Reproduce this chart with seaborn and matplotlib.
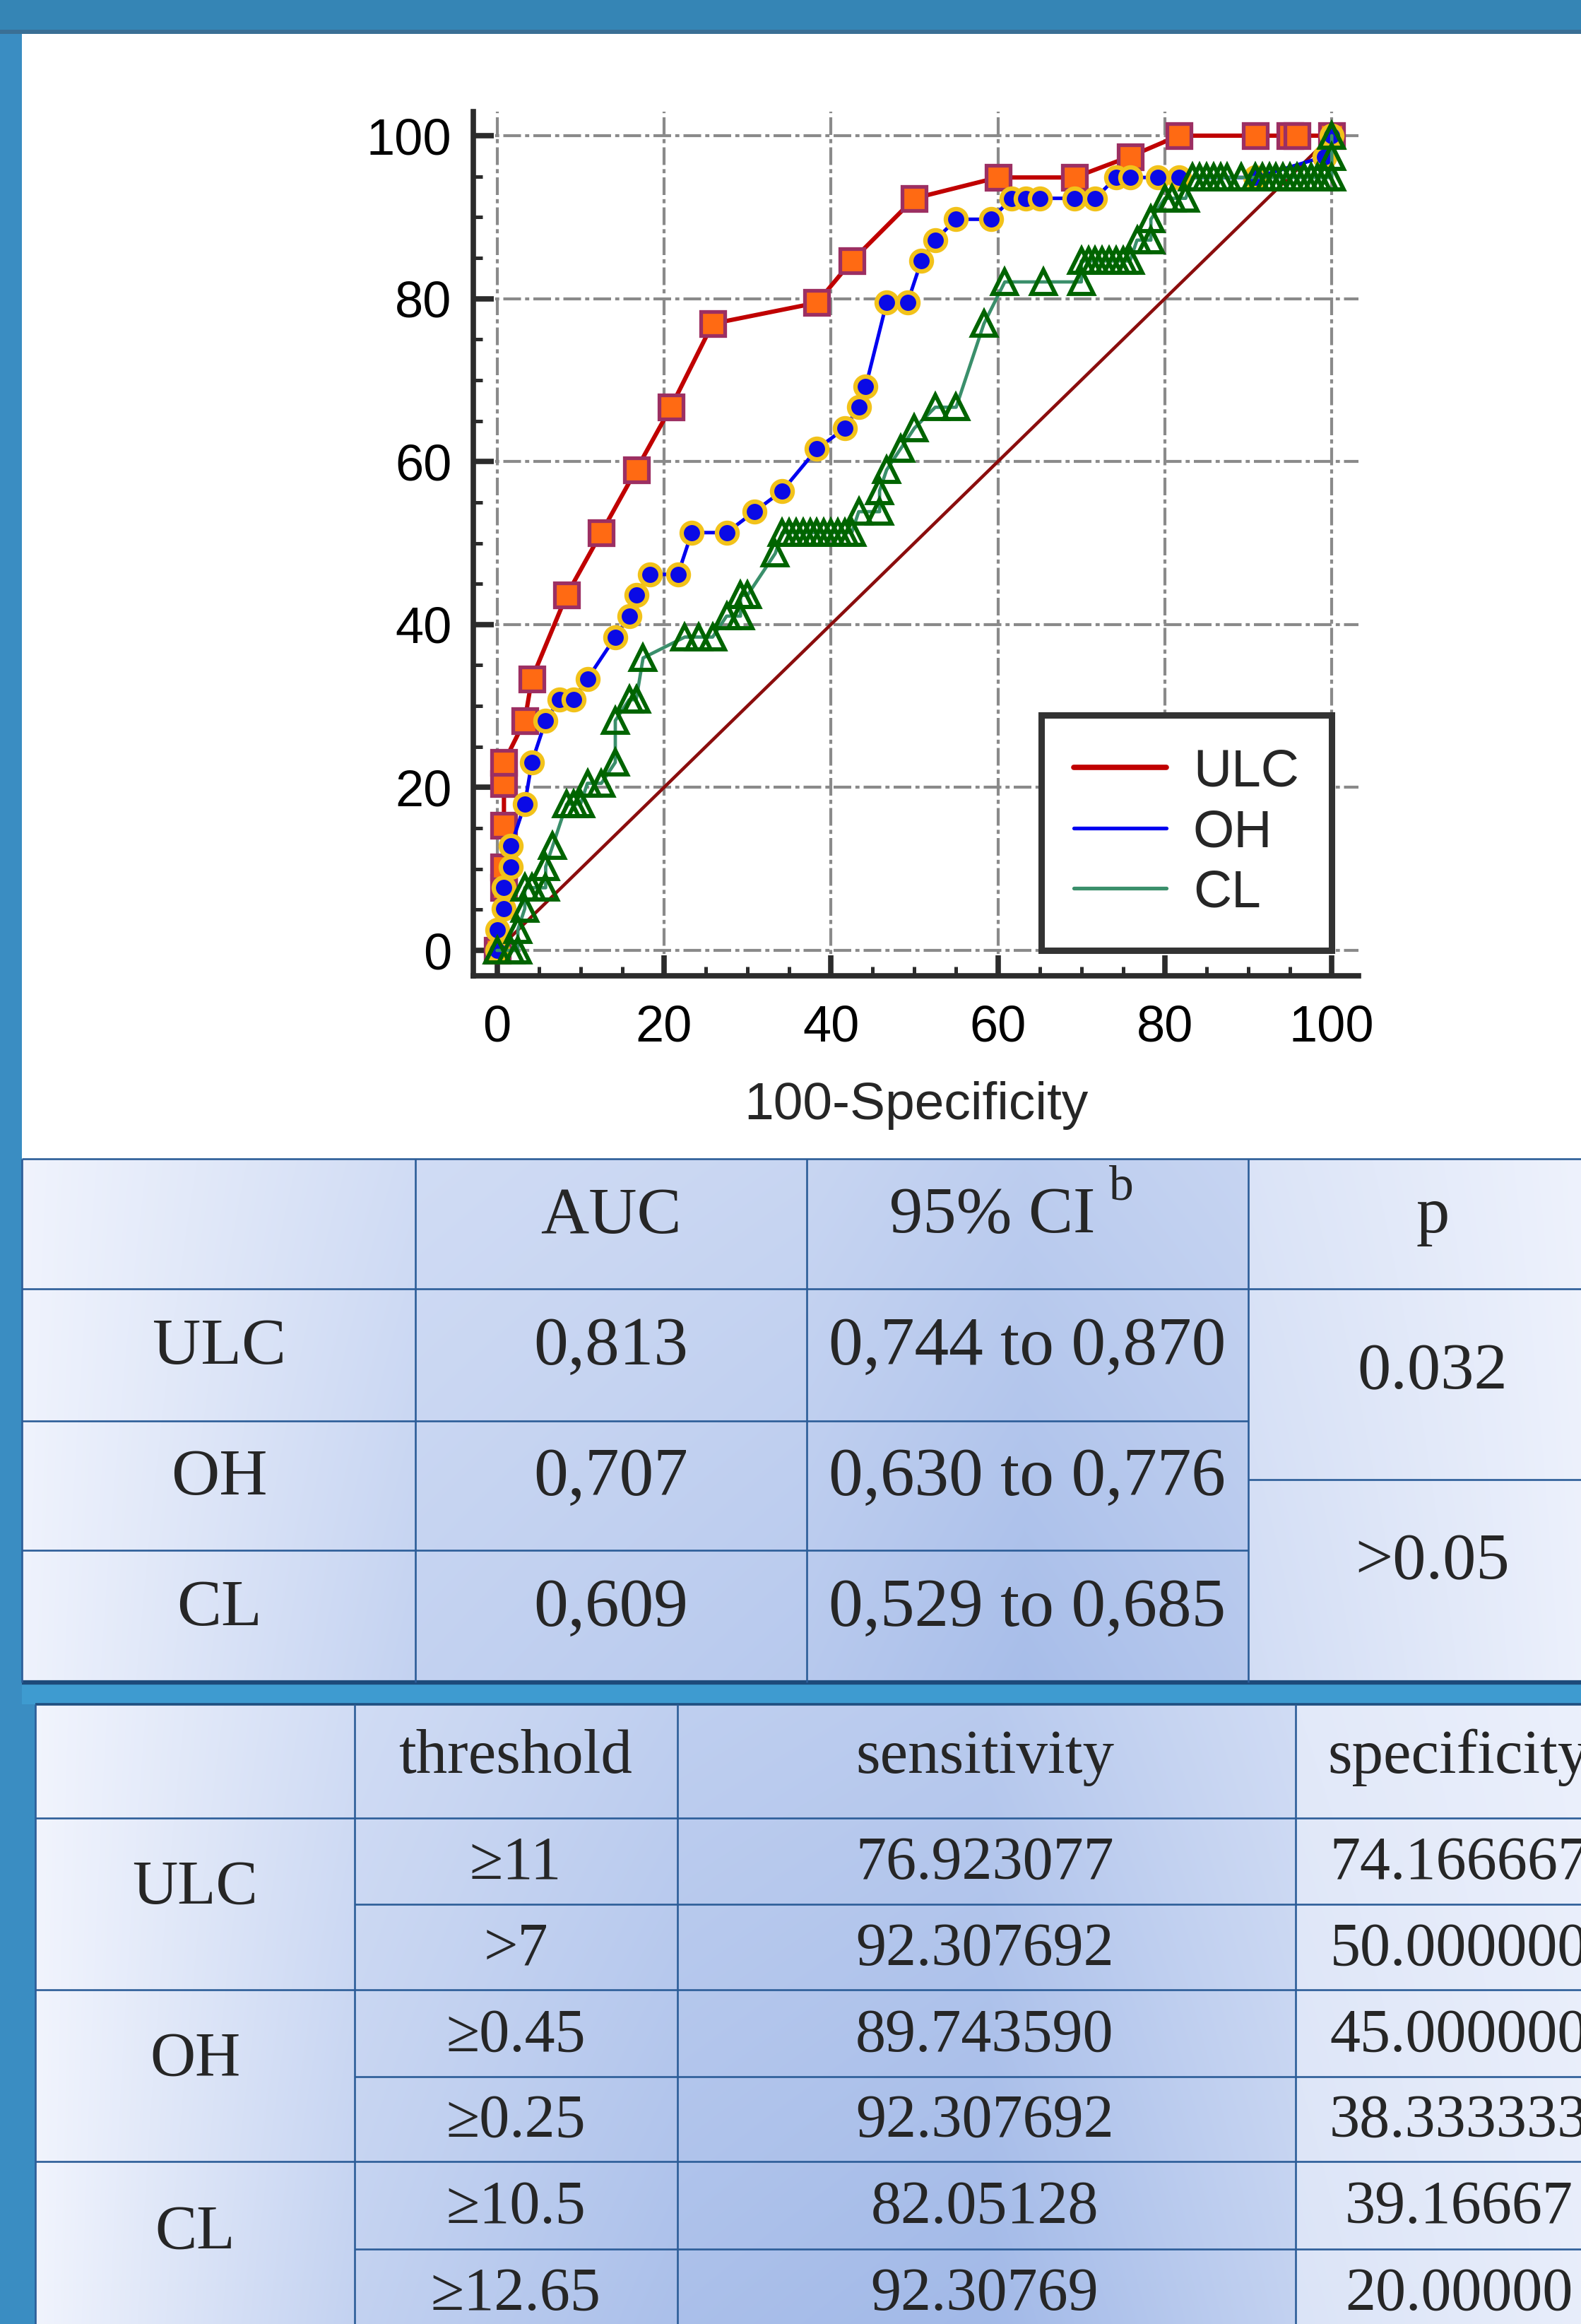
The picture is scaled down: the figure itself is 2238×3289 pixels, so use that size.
import numpy as np
import matplotlib
matplotlib.use('Agg')
import matplotlib.pyplot as plt
from matplotlib.lines import Line2D
from matplotlib.patches import Rectangle
from matplotlib.ticker import MultipleLocator
import seaborn as sns

# ROC curve points: x = 100-Specificity, y = Sensitivity
ulc_x = [0, 0.83, 0.83, 0.83, 0.83, 0.83, 3.33, 4.17, 8.33, 12.5, 16.67, 20.83,
         25.83, 38.33, 42.5, 50.0, 60.0, 69.17, 75.83, 81.67, 90.83, 95.0, 95.83, 100]
ulc_y = [0, 7.69, 10.26, 15.38, 20.51, 23.08, 28.21, 33.33, 43.59, 51.28, 58.97, 66.67,
         76.92, 79.49, 84.62, 92.31, 94.87, 94.87, 97.44, 100, 100, 100, 100, 100]

oh_x = [0, 0, 0.83, 0.83, 1.67, 1.67, 3.33, 4.17, 5.83, 7.5, 9.17, 10.83, 14.17, 15.83,
        16.67, 18.33, 21.67, 23.33, 27.5, 30.83, 34.17, 38.33, 41.67, 43.33, 44.17, 46.67,
        49.17, 50.83, 52.5, 55.0, 59.17, 61.67, 63.33, 65.0, 69.17, 71.67, 74.17, 75.83,
        79.17, 81.67, 90.83, 99.17, 100]
oh_y = [0, 2.56, 5.13, 7.69, 10.26, 12.82, 17.95, 23.08, 28.21, 30.77, 30.77, 33.33, 38.46,
        41.03, 43.59, 46.15, 46.15, 51.28, 51.28, 53.85, 56.41, 61.54, 64.10, 66.67, 69.23,
        79.49, 79.49, 84.62, 87.18, 89.74, 89.74, 92.31, 92.31, 92.31, 92.31, 92.31, 94.87,
        94.87, 94.87, 94.87, 94.87, 97.44, 100]

cl_x = [0, 1.67, 2.5, 2.5, 3.33, 3.33, 4.17, 5.83, 5.83, 6.67, 8.33, 9.17, 10.0, 10.83,
        12.5, 14.17, 14.17, 15.83, 16.67, 17.5, 22.5, 24.17, 25.83, 27.5, 29.17, 29.17,
        30.0, 33.33, 34.17, 35.0, 35.83, 36.67, 37.5, 38.33, 39.17, 40.0, 40.83, 41.67,
        42.5, 43.33, 45.83, 45.83, 46.67, 48.33, 50.0, 52.5, 55.0, 58.33, 60.83, 65.42,
        70.0, 70.0, 70.83, 71.67, 72.5, 73.33, 74.17, 75.0, 75.83, 76.67, 78.33, 78.33,
        80.0, 80.83, 82.5, 83.33, 84.17, 85.0, 85.83, 86.67, 87.5, 89.17, 90.83, 91.67,
        92.5, 93.33, 94.17, 95.0, 95.83, 96.67, 97.5, 98.33, 99.17, 100, 100, 100]
cl_y = [0, 0, 0, 2.56, 5.13, 7.69, 7.69, 7.69, 10.26, 12.82, 17.95, 17.95, 17.95, 20.51,
        20.51, 23.08, 28.21, 30.77, 30.77, 35.90, 38.46, 38.46, 38.46, 41.03, 41.03, 43.59,
        43.59, 48.72, 51.28, 51.28, 51.28, 51.28, 51.28, 51.28, 51.28, 51.28, 51.28, 51.28,
        51.28, 53.85, 53.85, 56.41, 58.97, 61.54, 64.10, 66.67, 66.67, 76.92, 82.05, 82.05,
        82.05, 84.62, 84.62, 84.62, 84.62, 84.62, 84.62, 84.62, 84.62, 87.18, 87.18, 89.74,
        92.31, 92.31, 92.31, 94.87, 94.87, 94.87, 94.87, 94.87, 94.87, 94.87, 94.87, 94.87,
        94.87, 94.87, 94.87, 94.87, 94.87, 94.87, 94.87, 94.87, 94.87, 94.87, 97.44, 100]

series_names = ['ULC', 'OH', 'CL']

# AUC table
auc_header = ['', 'AUC', '95% CI', 'p']
auc_values = ['0,813', '0,707', '0,609']
auc_ci = ['0,744 to 0,870', '0,630 to 0,776', '0,529 to 0,685']
auc_p = ['0.032', '>0.05']

# cut-off table
cut_header = ['', 'threshold', 'sensitivity', 'specificity']
cut_threshold = ['≥11', '>7', '≥0.45', '≥0.25', '≥10.5', '≥12.65']
cut_sens = ['76.923077', '92.307692', '89.743590', '92.307692', '82.05128', '92.30769']
cut_spec = ['74.166667', '50.000000', '45.000000', '38.333333', '39.16667', '20.00000']

sns.set_style('white')
plt.rcParams['font.family'] = ['Liberation Sans', 'DejaVu Sans']
SERIF = ['Liberation Serif', 'DejaVu Serif']

W, H = 2238, 3289
fig = plt.figure(figsize=(W / 100, H / 100), dpi=100)

# background canvas in pixel coordinates
bg = fig.add_axes([0, 0, 1, 1], zorder=0)
bg.axis('off')


def box(x0, y0, x1, y1, color, z=1):
    bg.add_patch(Rectangle((x0, y0), x1 - x0, y1 - y0, facecolor=color,
                           edgecolor='none', zorder=z))


def hline(x0, x1, y, color='#2c5d98', lw=1.9, z=4):
    bg.plot([x0, x1], [y, y], color=color, lw=lw, solid_capstyle='butt', zorder=z)


def vline(x, y0, y1, color='#2c5d98', lw=1.9, z=4):
    bg.plot([x, x], [y0, y1], color=color, lw=lw, solid_capstyle='butt', zorder=z)


def gradient(x0, x1, y0, y1, stops_x, stops_t):
    xs = np.arange(x0, x1)
    ys = np.arange(y0, y1)
    tx = np.interp(xs, stops_x, stops_t)
    ty = (ys - y0) / (y1 - y0)
    t = tx[None, :] * (0.82 + 0.32 * ty[:, None])
    light = np.array([0.955, 0.965, 0.995])
    dark = np.array([0.62, 0.715, 0.905])
    img = light + (dark - light) * np.clip(t, 0, 1)[..., None]
    bg.imshow(img, extent=(x0, x1, y1, y0), aspect='auto', zorder=2,
              interpolation='bilinear')


box(0, 0, W, H, '#3a8dc2', 0)
box(0, 0, W, 44, '#3585b5', 1)
box(0, 42, W, 48, '#3a6f95', 1)
box(31, 48, W, 1640, 'white', 1)
box(31, 2381, W, 2412, '#3e9bd0', 1)

# ---- AUC table ----
t1_x = [31, 588, 1142, 1767, 2290]
t1_y = [1640, 1824, 2011, 2194, 2381]
gradient(31, W, 1640, 2381, [31, 588, 1142, 1450, 1765, 1769, 2238],
         [0.05, 0.5, 0.62, 0.78, 0.64, 0.35, 0.08])
for y in [1640, 1824]:
    hline(31, W, y)
for y in [2011, 2194]:
    hline(31, 1767, y)
hline(1767, W, 2094)
hline(31, W, 2381, color='#1d4a7a', lw=4.5)
for x in t1_x[:4]:
    vline(x, 1640, 2381)

t1_cx = [310, 865, 1405, 2028]
t1_cy = [(t1_y[i] + t1_y[i + 1]) / 2 for i in range(4)]
fs1 = 68
for j, txt in enumerate(auc_header):
    if txt:
        t = bg.text(t1_cx[j], t1_cy[0] - 10, txt, ha='center', va='center',
                    fontsize=fs1, family=SERIF, zorder=5)
        if txt == '95% CI':
            bg.annotate('b', xy=(1, 1), xycoords=t, xytext=(14, 22),
                        textcoords='offset points', ha='left', va='top',
                        fontsize=50, family=SERIF, zorder=5)
for i, name in enumerate(series_names):
    cy = t1_cy[i + 1] - 10
    bg.text(t1_cx[0], cy, name, ha='center', va='center', fontsize=fs1,
            family=SERIF, zorder=5)
    bg.text(t1_cx[1], cy, auc_values[i], ha='center', va='center', fontsize=fs1 + 2,
            family=SERIF, zorder=5)
    bg.text(1454, cy, auc_ci[i], ha='center', va='center', fontsize=fs1 + 2,
            family=SERIF, zorder=5)
bg.text(t1_cx[3], (1824 + 2094) / 2 - 16, auc_p[0], ha='center', va='center',
        fontsize=fs1, family=SERIF, zorder=5)
bg.text(t1_cx[3], (2094 + 2381) / 2 - 26, auc_p[1], ha='center', va='center',
        fontsize=fs1, family=SERIF, zorder=5)

# ---- cut-off table ----
t2_x = [50, 502, 959, 1834, 2296]
t2_y = [2412, 2573, 2695, 2816, 2939, 3059, 3183, 3305]
box(0, 2412, 50, H, '#3a8dc2', 3)
gradient(50, W, 2412, H, [50, 502, 959, 1400, 1832, 1836, 2238],
         [0.03, 0.5, 0.75, 0.84, 0.5, 0.25, 0.12])
hline(50, W, 2412, color='#1f4f80', lw=2.6)
for y in [2573, 2816, 3059]:
    hline(50, W, y)
for y in [2695, 2939, 3183]:
    hline(502, W, y)
for x in t2_x[:4]:
    vline(x, 2412, H)

t2_cx = [276, 730, 1394, 2065]
for j, txt in enumerate(cut_header):
    if txt:
        bg.text(t2_cx[j], (2412 + 2573) / 2 - 5, txt, ha='center', va='center',
                fontsize=64, family=SERIF, zorder=5)
for i, name in enumerate(series_names):
    cy = (t2_y[1 + 2 * i] + t2_y[3 + 2 * i]) / 2 - 22
    bg.text(t2_cx[0], cy, name, ha='center', va='center', fontsize=64,
            family=SERIF, zorder=5)
for k in range(6):
    cy = (t2_y[1 + k] + t2_y[2 + k]) / 2 + 4
    for j, col in enumerate([cut_threshold, cut_sens, cut_spec]):
        bg.text(t2_cx[j + 1], cy, col[k], ha='center', va='center', fontsize=62,
                family=SERIF, zorder=5)

bg.set_xlim(0, W)
bg.set_ylim(H, 0)

# ---- ROC chart ----
ax = fig.add_axes([670 / W, 1 - 1381 / H, (1923 - 670) / W, (1381 - 158) / H], zorder=3)
ax.set_facecolor('none')

sns.lineplot(x=[0, 100], y=[0, 100], color='#8b0d0d', lw=3.3, ax=ax, zorder=2)
sns.lineplot(x=ulc_x, y=ulc_y, sort=False, estimator=None, ax=ax, zorder=3,
             color='#c00000', lw=4.4, marker='s', markersize=24,
             markerfacecolor='#ff6a13', markeredgecolor='#9c2f62', markeredgewidth=3.8)
sns.lineplot(x=oh_x, y=oh_y, sort=False, estimator=None, ax=ax, zorder=4,
             color='#0000f0', lw=3.6, marker='o', markersize=21,
             markerfacecolor='#0a0ae6', markeredgecolor='#f2c21a', markeredgewidth=4.5)
sns.lineplot(x=cl_x, y=cl_y, sort=False, estimator=None, ax=ax, zorder=5,
             color='#3a8f6b', lw=3.4, marker='^', markersize=25,
             markerfacecolor='none', markeredgecolor='#006400', markeredgewidth=4.2)

ax.set_xlim(-2.84, 103.2)
ax.set_ylim(-3.12, 102.95)
ticks = [0, 20, 40, 60, 80, 100]
ax.set_xticks(ticks)
ax.set_yticks(ticks)
ax.xaxis.set_minor_locator(MultipleLocator(5))
ax.yaxis.set_minor_locator(MultipleLocator(5))
ax.grid(True, which='major', color='#8a8a8a', lw=3.0, linestyle=(0, (6, 1.4, 1.4, 1.4)))
ax.set_axisbelow(True)
ax.tick_params(which='both', bottom=True, left=True, top=False, right=False)
ax.tick_params(which='major', direction='in', length=21, width=5.5, color='#2b2b2b',
               labelsize=52, labelcolor='black')
ax.tick_params(which='minor', direction='in', length=9.5, width=3.6, color='#2b2b2b')
ax.tick_params(axis='x', which='major', pad=29)
ax.tick_params(axis='y', which='major', pad=22)
for side in ['top', 'right']:
    ax.spines[side].set_visible(False)
for side in ['left', 'bottom']:
    ax.spines[side].set_linewidth(5.5)
    ax.spines[side].set_color('#2b2b2b')
ax.set_xlabel('100-Specificity', fontsize=54, labelpad=30)
ax.set_ylabel('')

handles = [Line2D([], [], color='#c00000', lw=5.5),
           Line2D([], [], color='#0000f0', lw=3.8),
           Line2D([], [], color='#3a8f6b', lw=3.8)]
leg = ax.legend(handles, series_names, loc='lower right', bbox_to_anchor=(100, 0),
                bbox_transform=ax.transData, fontsize=54, frameon=True, fancybox=False,
                edgecolor='#333333', framealpha=1, borderpad=0.62, handlelength=1.75,
                handletextpad=0.5, labelspacing=0.22, borderaxespad=0)
leg.get_frame().set_linewidth(6.5)
leg.set_zorder(10)

fig.savefig('out.png', dpi=100)
